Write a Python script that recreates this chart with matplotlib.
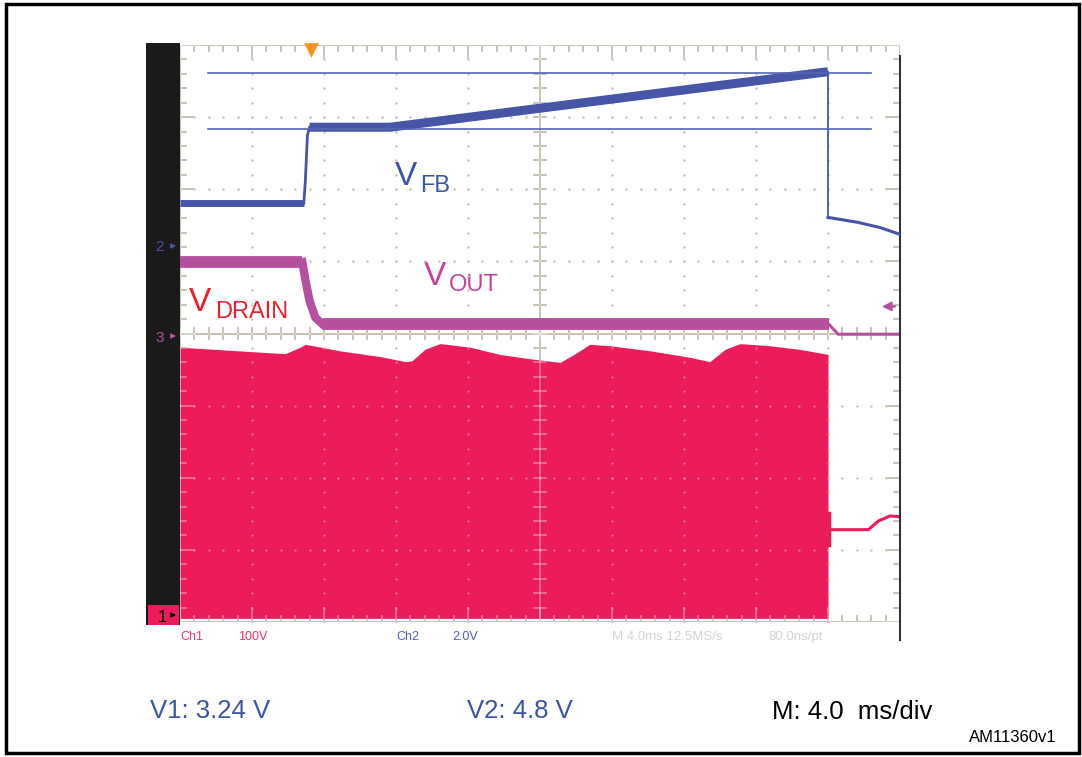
import numpy as np
import matplotlib.pyplot as plt

plt.rcParams['font.family'] = ['Liberation Sans', 'DejaVu Sans']

# traces, in divisions (x: 0..10, y: 0..8)
vfb_pre_x = [0.0, 1.72]
vfb_pre_y = [5.81, 5.81]
vfb_step_x = [1.72, 1.74, 1.77, 1.80]
vfb_step_y = [5.81, 6.10, 6.75, 6.86]
vfb_ramp_x = [1.80, 2.92, 9.00]
vfb_ramp_y = [6.86, 6.86, 7.63]
vfb_drop_x = [9.00, 9.00]
vfb_drop_y = [7.63, 5.61]
vfb_tail_x = [9.00, 9.42, 9.72, 10.0]
vfb_tail_y = [5.61, 5.54, 5.47, 5.375]

vout_pre_x = [0.0, 1.70]
vout_pre_y = [4.99, 4.99]
vout_fall_x = [1.70, 1.74, 1.80, 1.88, 1.98]
vout_fall_y = [4.99, 4.75, 4.45, 4.22, 4.13]
vout_flat_x = [1.98, 9.01]
vout_flat_y = [4.13, 4.13]
vout_tail_x = [9.01, 9.14, 10.0]
vout_tail_y = [4.13, 3.99, 3.99]

# VDRAIN envelope (switching burst, filled)
vdrain_x = [0.0, 0.97, 1.46, 1.67, 1.74, 2.22, 2.78, 3.13, 3.22, 3.40, 3.61,
            4.03, 4.44, 4.86, 5.28, 5.49, 5.69, 5.97, 6.53, 7.08, 7.36, 7.57,
            7.78, 8.19, 8.61, 9.00]
vdrain_top = [3.81, 3.75, 3.72, 3.81, 3.85, 3.76, 3.68, 3.61, 3.62, 3.78, 3.86,
              3.81, 3.71, 3.65, 3.60, 3.72, 3.85, 3.83, 3.76, 3.67, 3.61, 3.78,
              3.86, 3.83, 3.78, 3.71]
vdrain_base = 0.05
vdrain_tail_x = [9.02, 9.56, 9.70, 9.86, 10.0]
vdrain_tail_y = [1.28, 1.28, 1.40, 1.47, 1.46]
vdrain_last_x = [9.02, 9.02]
vdrain_last_y = [1.07, 1.51]

cursor_y = [7.61, 6.83]
cursor_span = [0.39, 9.60]

BLUE = '#4655a6'
MAG = '#b5509f'
RED = '#ec1c5a'
TAN = '#a8a088'

fig = plt.figure(figsize=(10.82, 7.57), dpi=100)

# page layer in pixel units
page = fig.add_axes([0, 0, 1, 1])
page.set_xlim(0, 1082)
page.set_ylim(757, 0)
page.axis('off')
page.add_patch(plt.Rectangle((6, 4), 1073, 749, fill=False, lw=2.5, ec='black'))
page.add_patch(plt.Rectangle((146, 43), 34, 582, color='#1a1a1a', lw=0))
page.add_patch(plt.Rectangle((148, 605), 31, 20, color=RED, lw=0))
page.text(167, 617, '1', color='black', fontsize=12, ha='right', va='center')
page.annotate('', xy=(179, 615), xytext=(169, 615),
              arrowprops=dict(arrowstyle='-|>', color='black', lw=1, mutation_scale=7))
page.text(164, 247, '2', color=BLUE, fontsize=11, ha='right', va='center')
page.annotate('', xy=(179, 246), xytext=(168, 246),
              arrowprops=dict(arrowstyle='-|>', color=BLUE, lw=1, mutation_scale=7))
page.text(164, 338, '3', color=MAG, fontsize=11, ha='right', va='center')
page.annotate('', xy=(179, 336), xytext=(168, 336),
              arrowprops=dict(arrowstyle='-|>', color=MAG, lw=1, mutation_scale=7))

# status line under the screen
page.text(180, 637, 'Ch1', color='#e8386a', fontsize=9, va='center')
page.text(238, 637, '100V', color='#e8386a', fontsize=9, va='center')
page.text(396, 637, 'Ch2', color='#5060b0', fontsize=9, va='center')
page.text(452, 637, '2.0V', color='#5060b0', fontsize=9, va='center')
page.text(612, 637, 'M 4.0ms 12.5MS/s', color='#d4d4d4', fontsize=9.5, va='center')
page.text(768, 637, '80.0ns/pt', color='#d4d4d4', fontsize=9.5, va='center')

page.text(150, 711, 'V1: 3.24 V', color='#3a55a4', fontsize=18.5, va='center')
page.text(467, 711, 'V2: 4.8 V', color='#3a55a4', fontsize=18.5, va='center')
page.text(772, 712, 'M: 4.0  ms/div', color='black', fontsize=18.5, va='center')
page.text(969, 738, 'AM11360v1', color='black', fontsize=12, va='center')

# scope screen in divisions
ax = fig.add_axes([180 / 1082, 135 / 757, 720 / 1082, 577 / 757])
ax.set_xlim(0, 10)
ax.set_ylim(0, 8)
ax.axis('off')


def draw_grid(color, alpha, z):
    # dotted graticule
    minor = np.arange(0, 10.01, 0.2)
    minor_y = np.arange(0, 8.01, 0.2)
    for gx in [1, 2, 3, 4, 6, 7, 8, 9]:
        ax.scatter(np.full(len(minor_y), gx), minor_y, s=2.5, color=color,
                   alpha=alpha, lw=0, zorder=z)
    for gy in [1, 2, 3, 5, 6, 7]:
        ax.scatter(minor, np.full(len(minor), gy), s=2.5, color=color,
                   alpha=alpha, lw=0, zorder=z)
    # centre axes with ticks
    kw = dict(color=color, alpha=alpha, lw=1.3, zorder=z)
    ax.plot([0, 10], [4, 4], **kw)
    ax.plot([5, 5], [0, 8], **kw)
    for t in minor:
        major = t % 1 < 0.01 or t % 1 > 0.99
        ax.plot([t, t], [3.92, 4.08], **kw)
        ax.plot([t, t], [0, 0.19 if major else 0.08], **kw)
        ax.plot([t, t], [8, 7.81 if major else 7.92], **kw)
    for t in minor_y:
        major = t % 1 < 0.01 or t % 1 > 0.99
        ax.plot([4.92, 5.08], [t, t], **kw)
        ax.plot([0, 0.19 if major else 0.08], [t, t], **kw)
        ax.plot([10, 9.81 if major else 9.92], [t, t], **kw)
    ax.plot([0, 10], [0, 0], **kw)
    ax.plot([0, 10], [8, 8], **kw)
    ax.plot([0, 0], [0, 8], **kw)


draw_grid(TAN, 1.0, 1)
ax.plot([10, 10], [-0.25, 7.85], color='#333333', lw=1.5, zorder=5, clip_on=False)

# VDRAIN burst
ax.fill_between(vdrain_x, vdrain_base, vdrain_top, color=RED, lw=0, zorder=2)
draw_grid('white', 0.35, 3)
ax.plot(vdrain_tail_x, vdrain_tail_y, color=RED, lw=2.2, zorder=4)
ax.plot(vdrain_last_x, vdrain_last_y, color=RED, lw=2.5, zorder=4)

# VOUT
ax.plot(vout_pre_x, vout_pre_y, color=MAG, lw=8.5, solid_capstyle='butt', zorder=4)
ax.plot(vout_fall_x, vout_fall_y, color=MAG, lw=6, zorder=4)
ax.plot(vout_flat_x, vout_flat_y, color=MAG, lw=8.5, solid_capstyle='butt', zorder=4)
ax.plot(vout_tail_x, vout_tail_y, color=MAG, lw=2.2, zorder=4)

# VFB
ax.plot(vfb_pre_x, vfb_pre_y, color=BLUE, lw=5, solid_capstyle='butt', zorder=5)
ax.plot(vfb_step_x, vfb_step_y, color=BLUE, lw=2, zorder=5)
ax.plot(vfb_ramp_x, vfb_ramp_y, color=BLUE, lw=6.5, solid_capstyle='butt', zorder=5)
ax.plot(vfb_drop_x, vfb_drop_y, color=BLUE, lw=1.3, zorder=5)
ax.plot(vfb_tail_x, vfb_tail_y, color=BLUE, lw=2.2, zorder=5)

# cursors
for cy in cursor_y:
    ax.plot(cursor_span, [cy, cy], color='#5565b0', lw=1.2, zorder=5)

# trigger marker and reference arrow
ax.scatter([1.82], [7.93], marker='v', s=110, color='#f7931e', lw=0, zorder=6,
           clip_on=False)
ax.annotate('', xy=(9.71, 4.375), xytext=(9.97, 4.375),
            arrowprops=dict(arrowstyle='-|>', color=MAG, lw=1.6, mutation_scale=13),
            zorder=6)

# trace labels
page.text(395, 185, 'V', color='#3d55a5', fontsize=24, va='baseline')
page.text(420, 192, 'FB', color='#3d55a5', fontsize=17, va='baseline')
page.text(424, 285, 'V', color='#c4449c', fontsize=24, va='baseline')
page.text(449, 291, 'OUT', color='#c4449c', fontsize=17, va='baseline')
page.text(189, 311, 'V', color='#e8202a', fontsize=24, va='baseline')
page.text(215, 318, 'DRAIN', color='#e8202a', fontsize=17, va='baseline')

fig.savefig('out.png', dpi=100)
